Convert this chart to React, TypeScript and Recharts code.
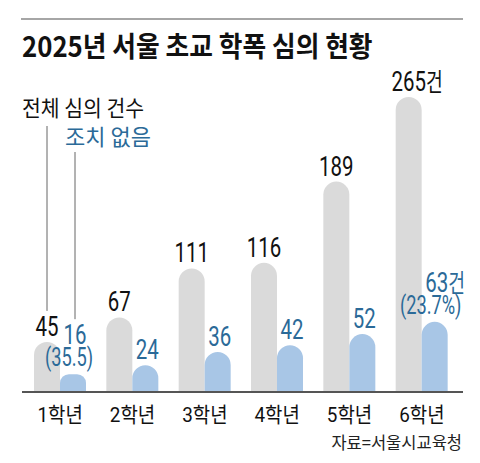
import React from 'react';
import { BarChart, Bar, XAxis, YAxis } from 'recharts';

const FONT = "Roboto, 'Noto Sans CJK KR', sans-serif";
const KFONT = "'Noto Sans CJK KR', Roboto, sans-serif";

const title = '2025년 서울 초교 학폭 심의 현황';
const totalLegend = '전체 심의 건수';
const noActionLegend = '조치 없음';
const source = '자료=서울시교육청';
const unit = '건';

const grades = ['1학년', '2학년', '3학년', '4학년', '5학년', '6학년'];
const totalCases = [45, 67, 111, 116, 189, 265];
const noActionCases = [16, 24, 36, 42, 52, 63];
const noActionShares = ['(35.5)', '', '', '', '', '(23.7%)'];

const data = grades.map((g, i) => ({ grade: g, total: totalCases[i], noAction: noActionCases[i] }));

const GRAY = '#dadada';
const BLUE = '#a8c6e6';
const BLUE_TEXT = '#2b6a98';
const INK = '#111';

const SX = 0.73;
const DIGIT_W = 0.562 * 28 * SX;

function ValueText({ cx, base, value, withUnit, fill, share }: any) {
  const s = String(value);
  const numW = s.length * DIGIT_W;
  return (
    <text
      transform={`translate(${cx} ${base}) scale(${SX} 1)`}
      fontSize={28}
      fontFamily={FONT}
      fill={fill}
    >
      {withUnit ? (
        <>
          <tspan x={-numW / 2 / SX} y={0} textAnchor="start">{s}</tspan>
          <tspan fontSize={25} fontFamily={KFONT}>{unit}</tspan>
        </>
      ) : (
        <tspan x={0} y={0} textAnchor="middle">{s}</tspan>
      )}
      {share && (
        <tspan x={-6 / SX} y={22} textAnchor="middle" fontSize={25}>
          {share}
        </tspan>
      )}
    </text>
  );
}

const renderTotalLabel = (p: any) => {
  const cx = Number(p.x) + Number(p.width) / 2;
  const base = Number(p.y) - 6;
  const last = p.index === totalCases.length - 1;
  return (
    <g>
      {p.index === 0 && <line x1={cx} x2={cx} y1={126} y2={base - 25} stroke="#666" strokeWidth={1} />}
      <ValueText cx={cx} base={base} value={p.value} withUnit={last} fill={INK} />
    </g>
  );
};

const renderNoActionLabel = (p: any) => {
  const cx = Number(p.x) + Number(p.width) / 2 + 2;
  const share = noActionShares[p.index];
  const last = p.index === noActionCases.length - 1;
  const base = share ? Number(p.y) - 30 : Number(p.y) - 6;
  return (
    <g>
      {p.index === 0 && <line x1={cx} x2={cx} y1={152} y2={base - 25} stroke="#666" strokeWidth={1} />}
      <ValueText cx={cx} base={base} value={p.value} withUnit={last} fill={BLUE_TEXT} share={share} />
    </g>
  );
};

const GradeTick = (p: any) => (
  <text
    transform={`translate(${p.x} ${Number(p.y) + 30}) scale(0.9 1)`}
    textAnchor="middle"
    fontSize={21}
    fontFamily={FONT}
    fill={INK}
  >
    {p.payload.value}
  </text>
);

export default function App() {
  return (
    <div style={{ position: 'absolute', left: 0, top: 0, width: 480, height: 463, background: '#fff' }}>
      <BarChart
        width={480}
        height={463}
        data={data}
        margin={{ top: 58, right: 17, bottom: 41, left: 22 }}
        barGap={0}
        barSize={26}
      >
        <XAxis
          dataKey="grade"
          height={30}
          padding={{ left: 2, right: 5 }}
          axisLine={{ stroke: '#555', strokeWidth: 2 }}
          tickLine={false}
          tickSize={0}
          tickMargin={0}
          tick={<GradeTick />}
          interval={0}
        />
        <YAxis hide domain={[0, 300]} width={0} />
        <Bar dataKey="total" fill={GRAY} radius={[13, 13, 0, 0]} isAnimationActive={false} label={renderTotalLabel} />
        <Bar dataKey="noAction" fill={BLUE} radius={[13, 13, 0, 0]} isAnimationActive={false} label={renderNoActionLabel} />
      </BarChart>
      <svg
        width={480}
        height={463}
        style={{ position: 'absolute', left: 0, top: 0, pointerEvents: 'none' }}
      >
        <line x1={21} x2={463} y1={19} y2={19} stroke="#888" strokeWidth={1.5} />
        <text
          transform="translate(22 57) scale(0.92 1)"
          fontSize={28}
          fontWeight={700}
          fontFamily={KFONT}
          fill={INK}
        >
          {title}
        </text>
        <text transform="translate(22 116) scale(0.93 1)" fontSize={22} fontFamily={KFONT} fill={INK}>
          {totalLegend}
        </text>
        <text transform="translate(65 145) scale(1 1)" fontSize={22} fontFamily={KFONT} fill={BLUE_TEXT}>
          {noActionLegend}
        </text>
        <text x={462} y={449} textAnchor="end" fontSize={16.5} fontFamily={KFONT} fill="#222">
          {source}
        </text>
      </svg>
    </div>
  );
}
